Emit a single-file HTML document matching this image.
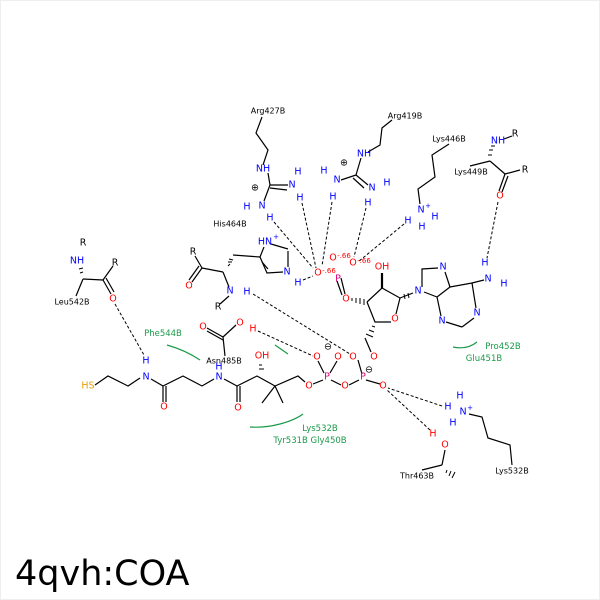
<!DOCTYPE html>
<html><head><meta charset="utf-8"><style>
html,body{margin:0;padding:0;background:#fff;}
svg{display:block;font-family:"DejaVu Sans","Liberation Sans",sans-serif;}
.b{stroke:#000;stroke-width:1.2;fill:none}
.d{stroke:#000;stroke-width:1;fill:none;stroke-dasharray:3,2}
.g{stroke:#1a9a4a;stroke-width:1.2;fill:none}
text{font-size:9.5px;text-anchor:middle;dominant-baseline:central}
.k{fill:#000}.n{fill:#0000ff}.o{fill:#ff0000}.p{fill:#dd0080}.s{fill:#e6a000}.gr{fill:#1a9a4a;font-size:8.5px}
.sm{font-size:7px}.lb{font-size:8px}
</style></head><body>
<svg width="600" height="600" viewBox="0 0 600 600">
<rect x="0.5" y="0.5" width="599" height="599" fill="#fff" stroke="#eee"/>
<g class="b">
<polyline points="262,117 256,133 268,150 263,165"/>
<line x1="268" y1="173" x2="270" y2="185"/><line x1="270" y1="185" x2="288" y2="185"/><line x1="270" y1="188" x2="287" y2="190"/>
<line x1="270" y1="185" x2="264" y2="201"/>
<polyline points="392,120 382,128 380,145 368,152"/>
<line x1="361" y1="158" x2="356" y2="175"/><line x1="356" y1="175" x2="341" y2="180"/>
<line x1="356" y1="175" x2="368" y2="185"/><line x1="353" y1="178" x2="364" y2="188"/>
<polyline points="260,257 267,273 283,272"/><line x1="262" y1="262" x2="268" y2="269"/>
<line x1="288" y1="267" x2="288" y2="251"/><line x1="288" y1="249" x2="271" y2="244"/>
<line x1="260" y1="257" x2="264" y2="247"/>
<line x1="260" y1="257" x2="233" y2="255"/>
<line x1="223" y1="272" x2="202" y2="268"/><line x1="202" y1="268" x2="195" y2="256"/>
<line x1="202" y1="268" x2="192" y2="282"/><line x1="199" y1="266" x2="189" y2="280"/>
<line x1="223" y1="272" x2="229" y2="287"/><line x1="229" y1="296" x2="220" y2="304"/>
<line x1="83" y1="279" x2="103" y2="280"/><line x1="103" y1="280" x2="113" y2="266"/>
<line x1="103" y1="280" x2="111" y2="294"/><line x1="106" y1="278" x2="114" y2="292"/>
<line x1="83" y1="279" x2="76" y2="296"/>
<line x1="490" y1="161" x2="470" y2="166"/><line x1="490" y1="161" x2="505" y2="174"/>
<line x1="505" y1="174" x2="520" y2="170"/><line x1="505" y1="174" x2="499" y2="191"/><line x1="508" y1="176" x2="502" y2="192"/>
<line x1="504" y1="139" x2="512" y2="136"/>
<polyline points="449,144 432,155 435,177 418,189 420,204"/>
<polyline points="367,302 382,288 400,298 396,314"/><polyline points="391,322 375,322 367,302"/>
<line x1="382" y1="288" x2="382" y2="273" stroke-width="2.2"/>
<polyline points="413,293 400,298"/>
<polyline points="422,287 422,269 438,268"/><line x1="445" y1="272" x2="450" y2="287"/>
<line x1="450" y1="287" x2="437" y2="297"/><line x1="437" y1="297" x2="424" y2="292"/>
<line x1="450" y1="287" x2="472" y2="283"/><line x1="472" y1="283" x2="476" y2="308"/>
<line x1="474" y1="318" x2="462" y2="327"/><line x1="462" y1="327" x2="446" y2="322"/>
<line x1="441" y1="316" x2="437" y2="297"/>
<line x1="472" y1="283" x2="484" y2="280"/>
<line x1="365" y1="338" x2="371" y2="352"/>
<line x1="358" y1="360" x2="362" y2="374"/><line x1="366" y1="380" x2="380" y2="384"/>
<line x1="349" y1="385" x2="359" y2="380"/><line x1="331" y1="380" x2="341" y2="385"/>
<line x1="318" y1="361" x2="324" y2="373"/><line x1="337" y1="361" x2="330" y2="373"/>
<line x1="313" y1="384" x2="323" y2="380"/>
<line x1="341" y1="278" x2="345" y2="294"/><line x1="337" y1="281" x2="342" y2="295"/>
<polyline points="95,385 108,376 128,386 140,378"/>
<line x1="151" y1="379" x2="163" y2="386"/><line x1="163" y1="386" x2="163" y2="402"/><line x1="166" y1="386" x2="166" y2="402"/>
<polyline points="163,386 183,376 202,386 214,379"/>
<line x1="224" y1="379" x2="237" y2="386"/><line x1="237" y1="386" x2="237" y2="402"/><line x1="240" y1="386" x2="240" y2="402"/>
<polyline points="237,386 257,376 275,386 298,376 305,382"/>
<line x1="275" y1="386" x2="262" y2="403"/><line x1="275" y1="386" x2="283" y2="403"/>
<line x1="223" y1="337" x2="207" y2="328"/><line x1="223" y1="340" x2="207" y2="331"/>
<line x1="223" y1="337" x2="236" y2="325"/><line x1="223" y1="337" x2="225" y2="356"/>
<polyline points="469,414 482,417 488,438 510,445 512,465"/>
<line x1="445" y1="450" x2="442" y2="465"/><line x1="442" y1="465" x2="422" y2="470"/>
</g>
<g stroke="#000" stroke-width="1">
<line x1="228" y1="266" x2="230" y2="264"/><line x1="228" y1="262" x2="232" y2="262"/><line x1="229" y1="259" x2="233" y2="260"/>
<line x1="80" y1="273" x2="83" y2="272"/><line x1="79" y1="269" x2="83" y2="268"/>
<line x1="488" y1="155" x2="492" y2="155"/><line x1="489" y1="150" x2="493" y2="150"/><line x1="495" y1="146" x2="491" y2="146"/>
<line x1="352" y1="298" x2="352" y2="301"/><line x1="356" y1="298" x2="356" y2="303"/><line x1="360" y1="298" x2="360" y2="304"/><line x1="364" y1="299" x2="364" y2="305"/>
<line x1="404" y1="294" x2="405" y2="299"/><line x1="408" y1="293" x2="409" y2="298"/>
<line x1="259" y1="365" x2="262" y2="365"/><line x1="259" y1="369" x2="264" y2="369"/>
<line x1="447" y1="470" x2="446" y2="473"/><line x1="451" y1="471" x2="449" y2="476"/><line x1="455" y1="472" x2="452" y2="478"/>
<line x1="372" y1="326" x2="375" y2="327"/><line x1="369" y1="330" x2="374" y2="332"/><line x1="366" y1="334" x2="373" y2="337"/>
</g>
<g class="d">
<line x1="302" y1="203" x2="316" y2="268"/><line x1="274" y1="222" x2="313" y2="268"/>
<line x1="332" y1="202" x2="322" y2="266"/><line x1="366" y1="208" x2="354" y2="257"/>
<line x1="404" y1="224" x2="358" y2="262"/><line x1="303" y1="280" x2="313" y2="276"/>
<line x1="498" y1="202" x2="487" y2="258"/><line x1="115" y1="304" x2="144" y2="355"/>
<line x1="253" y1="294" x2="350" y2="354"/><line x1="258" y1="331" x2="313" y2="356"/>
<line x1="442" y1="406" x2="388" y2="388"/><line x1="430" y1="430" x2="387" y2="390"/>
</g>
<g class="g">
<path d="M167,345 Q185,350 200,360"/><path d="M275,345 L288,354"/>
<path d="M250,427 Q265,428 280,424 Q295,420 303,414"/>
<path d="M453,347 Q467,350 477,342"/>
</g>
<g>
<text x="268" y="111" class="k lb">Arg427B</text>
<text x="405" y="116" class="k lb">Arg419B</text>
<text x="449" y="139" class="k lb">Lys446B</text>
<text x="471" y="172" class="k lb">Lys449B</text>
<text x="230" y="224" class="k lb">His464B</text>
<text x="72" y="302" class="k lb">Leu542B</text>
<text x="224" y="361" class="k lb">Asn485B</text>
<text x="417" y="476" class="k lb">Thr463B</text>
<text x="512" y="471" class="k lb">Lys532B</text>
<text x="163" y="334" class="gr">Phe544B</text>
<text x="320" y="429" class="gr">Lys532B</text>
<text x="310" y="441" class="gr">Tyr531B  Gly450B</text>
<text x="503" y="347" class="gr">Pro452B</text>
<text x="484" y="359" class="gr">Glu451B</text>
<text x="263" y="169" class="n">NH</text><text x="292" y="185" class="n">N</text><text x="298" y="172" class="n">H</text>
<text x="300" y="198" class="n">H</text><text x="262" y="206" class="n">N</text><text x="247" y="207" class="n">H</text>
<text x="270" y="218" class="n">H</text><text x="255" y="188" class="k">⊕</text>
<text x="364" y="154" class="n">NH</text><text x="337" y="180" class="n">N</text><text x="324" y="171" class="n">H</text>
<text x="333" y="197" class="n">H</text><text x="372" y="188" class="n">N</text><text x="387" y="183" class="n">H</text>
<text x="368" y="203" class="n">H</text><text x="344" y="163" class="k">⊕</text>
<text x="265" y="242" class="n">HN</text><text x="276" y="237" class="n sm">+</text>
<text x="287" y="272" class="n">N</text><text x="298" y="283" class="n">H</text>
<text x="193" y="252" class="k">R</text><text x="189" y="286" class="o">O</text>
<text x="230" y="291" class="n">N</text><text x="247" y="292" class="n">H</text><text x="218" y="307" class="k">R</text>
<text x="318" y="273" class="o">O</text><text x="329" y="271" class="o sm">-.66</text>
<text x="333" y="258" class="o">O</text><text x="344" y="256" class="o sm">-.66</text>
<text x="353" y="263" class="o">O</text><text x="364" y="261" class="o sm">-.66</text>
<text x="338" y="279" class="p">P</text><text x="346" y="299" class="o">O</text>
<text x="382" y="267" class="o">OH</text><text x="395" y="319" class="o">O</text>
<text x="418" y="291" class="n">N</text><text x="443" y="267" class="n">N</text>
<text x="477" y="313" class="n">N</text><text x="442" y="321" class="n">N</text>
<text x="488" y="279" class="n">N</text><text x="485" y="263" class="n">H</text><text x="504" y="284" class="n">H</text>
<text x="421" y="210" class="n">N</text><text x="428" y="206" class="n sm">+</text>
<text x="408" y="221" class="n">H</text><text x="435" y="217" class="n">H</text><text x="422" y="227" class="n">H</text>
<text x="498" y="141" class="n">NH</text><text x="515" y="134" class="k">R</text>
<text x="525" y="170" class="k">R</text><text x="500" y="196" class="o">O</text>
<text x="83" y="243" class="k">R</text><text x="77" y="261" class="n">NH</text>
<text x="115" y="263" class="k">R</text><text x="113" y="299" class="o">O</text>
<text x="374" y="357" class="o">O</text><text x="363" y="377" class="p">P</text><text x="369" y="370" class="k">⊖</text>
<text x="353" y="357" class="o">O</text><text x="383" y="386" class="o">O</text><text x="345" y="386" class="o">O</text>
<text x="327" y="377" class="p">P</text><text x="317" y="357" class="o">O</text><text x="338" y="357" class="o">O</text>
<text x="328" y="347" class="k">⊖</text><text x="309" y="386" class="o">O</text>
<text x="88" y="386" class="s">HS</text><text x="146" y="377" class="n">N</text><text x="146" y="361" class="n">H</text>
<text x="164" y="407" class="o">O</text><text x="219" y="377" class="n">N</text><text x="219" y="367" class="n">H</text>
<text x="238" y="408" class="o">O</text><text x="262" y="356" class="o">OH</text>
<text x="203" y="327" class="o">O</text><text x="240" y="323" class="o">O</text><text x="253" y="329" class="o">H</text>
<text x="463" y="412" class="n">N</text><text x="470" y="408" class="n sm">+</text>
<text x="460" y="396" class="n">H</text><text x="448" y="407" class="n">H</text><text x="453" y="423" class="n">H</text>
<text x="433" y="434" class="o">H</text><text x="445" y="445" class="o">O</text>
</g>
<text x="15" y="585" style="font-size:35px;text-anchor:start;dominant-baseline:alphabetic" class="k">4qvh:COA</text>
</svg>
</body></html>
